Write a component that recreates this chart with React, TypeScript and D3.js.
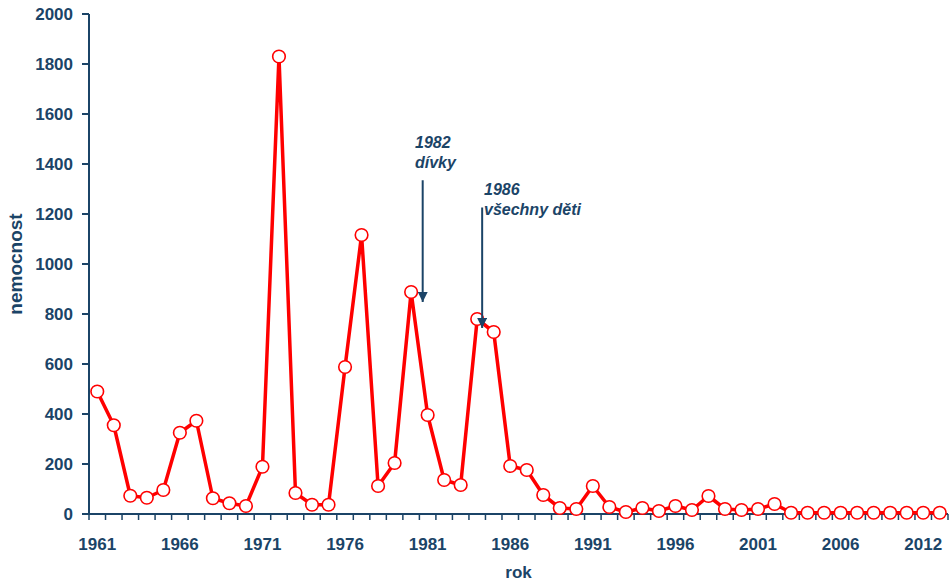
import React from "react";
import * as d3 from "d3";

const years: string[] = [
  ...d3.range(1961, 2011).map(String),
  "2012",
  "2013",
];
const values: number[] = [
  490, 355, 73, 65, 96, 325, 373, 63, 43, 32,
  189, 1830, 84, 37, 37, 588, 1116, 112, 204, 888,
  396, 136, 116, 780, 728, 192, 176, 76, 24, 20,
  112, 28, 8, 24, 12, 32, 16, 72, 20, 16,
  20, 40, 5, 5, 5, 5, 5, 5, 5, 5,
  5, 5,
];
const yTicks: number[] = [0, 200, 400, 600, 800, 1000, 1200, 1400, 1600, 1800, 2000];
const annotations = [
  { line1: "1982", line2: "dívky", idx: 19.7, top: 1335, tip: 848, tx: 415, ty: 148 },
  { line1: "1986", line2: "všechny děti", idx: 23.3, top: 1226, tip: 744, tx: 484, ty: 195 },
];

const W = 952;
const H = 585;
const M = { left: 89, right: 4, top: 14, bottom: 71 };
const BLUE = "#1B4467";
const FONT = "'Liberation Sans', Arial, sans-serif";

export default function App() {
  const x = d3
    .scaleBand<string>()
    .domain(years)
    .range([M.left, W - M.right])
    .paddingInner(0)
    .paddingOuter(0);
  const y = d3.scaleLinear().domain([0, 2000]).range([H - M.bottom, M.top]);
  const bw = x.bandwidth();
  const cx = (i: number) => M.left + bw * (i + 0.5);

  const line = d3
    .line<number>()
    .x((_, i) => cx(i))
    .y((d) => y(d));

  const tickXs = d3.range(years.length + 1).map((k) => M.left + k * bw);

  return (
    <svg
      width={W}
      height={H}
      style={{ position: "absolute", left: 0, top: 0, background: "#fff" }}
      fontFamily={FONT}
    >
      <defs>
        <marker id="arr" viewBox="0 0 10 10" refX="10" refY="5" markerWidth="5" markerHeight="5" orient="auto">
          <path d="M0,0 L10,5 L0,10 z" fill={BLUE} />
        </marker>
      </defs>
      {/* Y axis */}
      <line x1={M.left} x2={M.left} y1={y(2000)} y2={y(0)} stroke={BLUE} strokeWidth={2} />
      {yTicks.map((t) => (
        <g key={t}>
          <line x1={M.left - 7} x2={M.left} y1={y(t)} y2={y(t)} stroke={BLUE} strokeWidth={2} />
          <text
            x={73}
            y={y(t)}
            dy="0.36em"
            textAnchor="end"
            fontSize={17}
            fontWeight="bold"
            fill={BLUE}
          >
            {t}
          </text>
        </g>
      ))}
      {/* X axis */}
      <line x1={M.left - 7} x2={W - M.right} y1={y(0)} y2={y(0)} stroke={BLUE} strokeWidth={2} />
      {tickXs.map((tx, k) => (
        <line key={k} x1={tx} x2={tx} y1={y(0)} y2={y(0) + 6} stroke={BLUE} strokeWidth={1.5} />
      ))}
      {years.map((yr, i) =>
        i % 5 === 0 ? (
          <text
            key={yr}
            x={cx(i)}
            y={550}
            textAnchor="middle"
            fontSize={17}
            fontWeight="bold"
            fill={BLUE}
          >
            {yr}
          </text>
        ) : null
      )}
      <text x={(M.left + W - M.right) / 2} y={578} textAnchor="middle" fontSize={17} fontWeight="bold" fill={BLUE}>
        rok
      </text>
      <text
        transform={`translate(22,${(y(0) + y(2000)) / 2}) rotate(-90)`}
        textAnchor="middle"
        fontSize={19}
        fontWeight="bold"
        fill={BLUE}
      >
        nemocnost
      </text>
      {/* Series */}
      <path d={line(values) || ""} fill="none" stroke="#FF0000" strokeWidth={3.5} strokeLinejoin="round" />
      {values.map((v, i) => (
        <circle key={i} cx={cx(i)} cy={y(v)} r={6.3} fill="#fff" stroke="#FF0000" strokeWidth={1.6} />
      ))}
      {/* Annotations */}
      {annotations.map((a) => (
        <g key={a.line1}>
          <line
            x1={cx(a.idx)}
            x2={cx(a.idx)}
            y1={y(a.top)}
            y2={y(a.tip)}
            stroke={BLUE}
            strokeWidth={2}
            markerEnd="url(#arr)"
          />
          <text x={a.tx} y={a.ty} fontSize={16} fontWeight="bold" fontStyle="italic" fill={BLUE}>
            {a.line1}
          </text>
          <text x={a.tx} y={a.ty + 20} fontSize={16} fontWeight="bold" fontStyle="italic" fill={BLUE}>
            {a.line2}
          </text>
        </g>
      ))}
    </svg>
  );
}
